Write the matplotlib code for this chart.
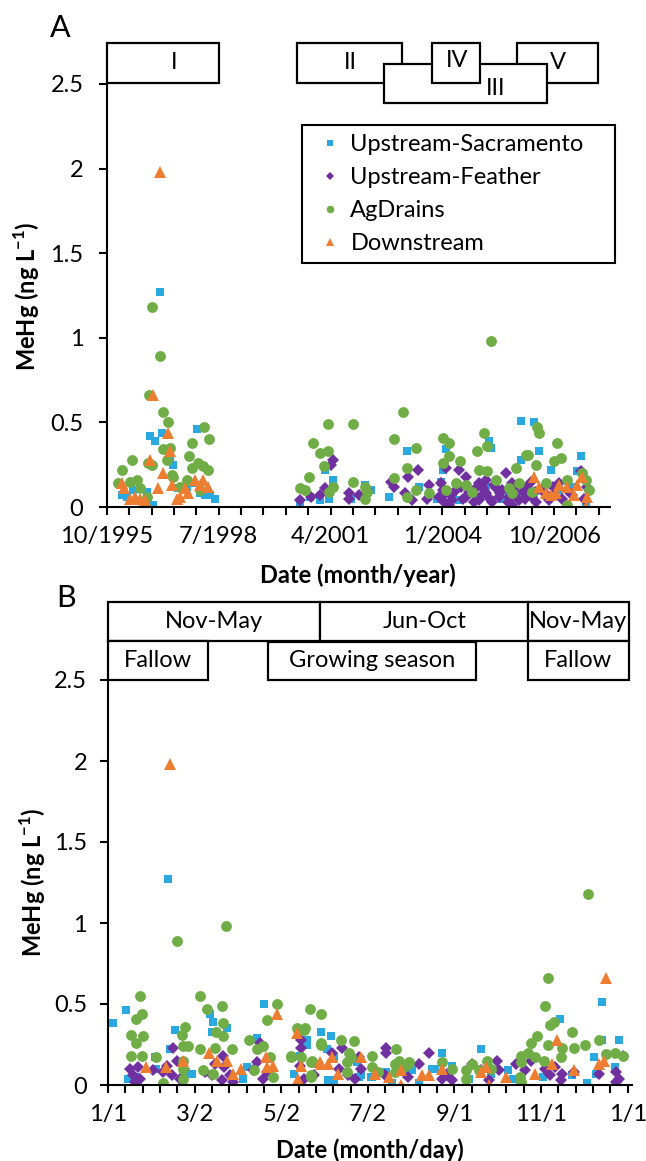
import numpy as np
import matplotlib.pyplot as plt
import matplotlib.transforms as mtransforms
from matplotlib.patches import Rectangle
from matplotlib.ticker import FixedLocator, FuncFormatter

plt.rcParams['font.family'] = ['Lato', 'DejaVu Sans']

# Excel-like series colours
c_sac  = '#29A9E0'
c_fea  = '#7030A0'
c_ag   = '#70AD47'
c_down = '#ED7D31'

labels = ['Upstream-Sacramento', 'Upstream-Feather', 'AgDrains', 'Downstream']

# ---------------- panel A : decimal year, MeHg (ng/L) ----------------
A_sac_yr = [1997.12, 1996.87, 1996.99, 1997.17, 1998.02, 1997.44, 1997.36, 1996.19,
            1996.31, 1996.46, 1996.80, 1996.95, 1998.10, 1998.22, 1998.34, 1998.46,
            1997.56, 1997.78, 1997.90,
            2005.97, 2006.29, 2003.18, 2004.13, 2005.19, 2005.23, 2006.41, 2005.97,
            2007.43, 2006.70, 2007.34, 2000.54, 2001.03, 2001.27, 2001.15, 2001.35,
            2001.81, 2002.13, 2002.74, 2003.47, 2004.04, 2004.45, 2005.11, 2005.68,
            2007.56, 2006.73, 2000.79, 2004.00, 2004.30, 2004.90, 2005.50, 2006.10,
            2006.90, 2007.20, 2003.90, 2002.30]
A_sac_v  = [1.27, 0.42, 0.39, 0.44, 0.46, 0.25, 0.28, 0.07,
            0.06, 0.10, 0.09, 0.01, 0.08, 0.07, 0.07, 0.05,
            0.11, 0.12, 0.14,
            0.51, 0.50, 0.33, 0.34, 0.39, 0.35, 0.33, 0.28,
            0.30, 0.22, 0.21, 0.01, 0.04, 0.05, 0.22, 0.16,
            0.05, 0.13, 0.06, 0.12, 0.22, 0.04, 0.12, 0.09,
            0.01, 0.06, 0.06, 0.15, 0.08, 0.06, 0.05, 0.07,
            0.10, 0.12, 0.05, 0.10]

A_fea_yr = [2001.35, 2001.32, 2003.43, 2002.79, 2002.86, 2000.54, 2000.83, 2001.03,
            2001.15, 2001.76, 2001.76, 2002.18, 2003.11, 2003.30, 2003.72, 2003.67,
            2004.13, 2004.28, 2004.45, 2004.13, 2004.62, 2004.94, 2005.11, 2005.43,
            2005.60, 2005.75, 2005.92, 2006.24, 2006.48, 2006.90, 2007.22, 2007.43,
            2007.58, 2004.21, 2004.62, 2004.94, 2005.36, 2005.75, 2003.96, 2004.87,
            2005.11, 2006.00, 2006.34, 2006.97, 2004.01, 2004.38, 2005.26, 2005.68,
            2006.12, 2006.65, 2004.05, 2004.50, 2004.70, 2005.00, 2005.30, 2005.50,
            2005.85, 2006.20, 2006.55, 2006.75, 2007.10, 2007.50, 2002.00, 2003.20,
            2004.08, 2004.25, 2004.55, 2004.80, 2005.02, 2005.20, 2005.45, 2005.65,
            2005.80, 2006.05, 2006.30, 2006.60]
A_fea_v  = [0.28, 0.25, 0.22, 0.15, 0.12, 0.04, 0.06, 0.07,
            0.11, 0.08, 0.05, 0.10, 0.08, 0.04, 0.13, 0.05,
            0.08, 0.04, 0.22, 0.23, 0.18, 0.14, 0.08, 0.06,
            0.20, 0.14, 0.04, 0.06, 0.10, 0.14, 0.07, 0.21,
            0.12, 0.01, 0.06, 0.04, 0.11, 0.01, 0.06, 0.11,
            0.16, 0.09, 0.03, 0.05, 0.14, 0.10, 0.03, 0.06,
            0.12, 0.04, 0.10, 0.12, 0.09, 0.07, 0.13, 0.10,
            0.12, 0.15, 0.08, 0.12, 0.10, 0.05, 0.07, 0.18,
            0.03, 0.07, 0.05, 0.03, 0.11, 0.05, 0.08, 0.03,
            0.07, 0.05, 0.09, 0.06]

A_ag_yr  = [1996.92, 1997.12, 1996.85, 1997.19, 1997.31, 1997.19, 1997.36, 1997.29,
            1996.19, 1996.43, 1996.09, 1996.38, 1996.56, 1996.63, 1996.80, 1996.92,
            1996.82, 1997.44, 1997.41, 1997.90, 1997.83, 1997.90, 1998.19, 1998.32,
            1998.05, 1998.17, 1998.29, 1997.78, 1997.61, 1998.10,
            2005.23, 2003.06, 2001.23, 2001.84, 2000.86, 2001.05, 2001.23, 2001.13,
            2002.86, 2003.38, 2003.18, 2004.04, 2004.21, 2004.21, 2004.04, 2004.48,
            2005.06, 2005.14, 2004.89, 2006.36, 2006.41, 2006.09, 2006.14, 2006.85,
            2006.95, 2006.78, 2006.34, 2005.85, 2004.94, 2005.14, 2007.09, 2007.46,
            2000.76, 2000.54, 2001.35, 2001.84, 2002.13, 2002.15, 2002.86, 2003.40,
            2003.18, 2003.72, 2004.38, 2004.62, 2005.36, 2005.68, 2005.92, 2006.24,
            2006.58, 2007.09, 2007.63, 2007.56, 2001.27, 2000.66, 2002.18, 2004.13,
            2004.77, 2005.75]
A_ag_v   = [1.18, 0.89, 0.66, 0.56, 0.50, 0.34, 0.35, 0.28,
            0.22, 0.28, 0.14, 0.15, 0.16, 0.11, 0.06, 0.25,
            0.26, 0.18, 0.19, 0.38, 0.30, 0.23, 0.47, 0.40,
            0.26, 0.24, 0.22, 0.16, 0.12, 0.10,
            0.98, 0.56, 0.49, 0.49, 0.38, 0.32, 0.33, 0.24,
            0.40, 0.35, 0.23, 0.41, 0.38, 0.30, 0.26, 0.27,
            0.44, 0.36, 0.33, 0.47, 0.44, 0.31, 0.31, 0.38,
            0.29, 0.27, 0.25, 0.23, 0.22, 0.21, 0.16, 0.20,
            0.18, 0.11, 0.12, 0.15, 0.12, 0.05, 0.17, 0.10,
            0.06, 0.08, 0.14, 0.13, 0.16, 0.11, 0.14, 0.09,
            0.14, 0.01, 0.10, 0.16, 0.09, 0.10, 0.09, 0.10,
            0.09, 0.08]

A_down_yr = [1997.12, 1996.95, 1997.31, 1996.87, 1997.36, 1997.19, 1997.07, 1997.41,
             1996.19, 1996.24, 1996.38, 1996.51, 1996.63, 1996.75, 1996.73, 1997.61,
             1997.73, 1997.80, 1997.97, 1998.17, 1998.29, 1998.10, 1997.53,
             2006.29, 2006.41, 2006.58, 2006.82, 2006.90, 2007.09, 2007.27, 2007.34,
             2007.46, 2007.58, 2007.56, 2006.70]
A_down_v  = [1.98, 0.66, 0.44, 0.28, 0.33, 0.20, 0.11, 0.13,
             0.14, 0.11, 0.05, 0.06, 0.05, 0.04, 0.00, 0.06,
             0.11, 0.08, 0.16, 0.16, 0.12, 0.13, 0.05,
             0.18, 0.12, 0.08, 0.08, 0.13, 0.12, 0.07, 0.13,
             0.18, 0.06, 0.00, 0.07]

A_tick_pos = [35000, 36000, 37000, 38000, 39000]
A_tick_lab = ['10/1995', '7/1998', '4/2001', '1/2004', '10/2006']

# sampling periods (x in Excel date serial)
A_boxes = [('I',   35000, 36000, 1.002, 1.097, 35600, 1.050),
           ('II',  36700, 37640, 1.002, 1.097, 37180, 1.050),
           ('V',   38670, 39390, 1.002, 1.097, 39030, 1.050),
           ('III', 37480, 38940, 0.955, 1.047, 38480, 0.990),
           ('IV',  37910, 38340, 1.002, 1.097, 38130, 1.055)]

# ---------------- panel B : day of year, MeHg (ng/L) ----------------
B_sac_d = [4.5, 13.6, 43, 48, 45, 73, 75, 74, 85, 111, 106, 99, 96, 60, 34, 15, 21,
           35, 56, 136, 141, 151, 158, 155, 156, 132, 148, 141, 160, 176, 179, 160,
           186, 197, 201, 220, 215, 231, 236, 243, 264, 319, 349, 361, 343, 349, 338,
           358, 345, 283, 307, 328, 286, 271, 255, 229, 187, 213, 178]
B_sac_v = [0.38, 0.46, 1.27, 0.34, 0.22, 0.44, 0.39, 0.33, 0.35, 0.50, 0.29, 0.11,
           0.04, 0.07, 0.17, 0.04, 0.05, 0.10, 0.08, 0.18, 0.25, 0.33, 0.30, 0.22,
           0.03, 0.07, 0.13, 0.28, 0.17, 0.14, 0.06, 0.03, 0.05, 0.08, 0.01, 0.01,
           0.09, 0.10, 0.20, 0.12, 0.22, 0.41, 0.51, 0.28, 0.17, 0.28, 0.01, 0.11,
           0.07, 0.09, 0.05, 0.06, 0.04, 0.07, 0.04, 0.10, 0.05, 0.09, 0.05]

B_fea_d = [16.5, 18.6, 22, 23.5, 20, 32.6, 39.6, 46, 47, 49.5, 42.5, 51.6, 69, 74, 76,
           82, 83, 81, 87, 89, 106, 108, 103, 110, 113, 137, 137, 136, 139, 146, 159,
           166, 164, 170, 175, 178, 179, 197, 197, 196, 212, 220, 227, 236, 240, 243,
           257, 264, 269, 275, 276, 288, 295, 299, 309, 312, 316, 320, 321, 329, 347,
           359, 361, 359, 364]
B_fea_v = [0.10, 0.06, 0.11, 0.04, 0.02, 0.09, 0.08, 0.06, 0.23, 0.15, 0.12, 0.04,
           0.08, 0.06, 0.13, 0.18, 0.11, 0.03, 0.06, 0.02, 0.14, 0.26, 0.09, 0.04,
           0.08, 0.28, 0.23, 0.12, 0.04, 0.06, 0.20, 0.23, 0.10, 0.06, 0.04, 0.17,
           0.10, 0.23, 0.20, 0.06, 0.05, 0.13, 0.20, 0.04, 0.07, 0.03, 0.13, 0.09,
           0.03, 0.15, 0.09, 0.13, 0.09, 0.15, 0.10, 0.06, 0.11, 0.03, 0.07, 0.08,
           0.07, 0.08, 0.04, 0.02, 0.18]

B_ag_d = [49.5, 84, 23.5, 66, 25, 21, 17, 25.6, 21, 17, 25, 35, 40, 55, 53, 54, 57, 54,
          54, 54, 71, 81, 82, 77, 82, 88, 66, 76, 68, 75, 100, 106, 110, 113, 120, 104,
          115, 117, 130, 135, 139, 143, 151, 151, 137, 144, 145, 134, 140, 151, 165,
          174, 130, 144, 171, 172, 169, 187, 187, 169, 203, 206, 210, 212, 203, 191,
          144, 236, 339, 311, 309, 312, 315, 299, 303, 328, 337, 329, 347, 352, 358,
          364, 311, 321, 320, 292, 297, 302, 292, 308, 291, 292, 204, 206, 213, 243,
          253, 257, 262, 268, 271, 253]
B_ag_v = [0.89, 0.98, 0.55, 0.55, 0.44, 0.41, 0.31, 0.30, 0.26, 0.18, 0.18, 0.17, 0.01,
          0.36, 0.31, 0.24, 0.24, 0.15, 0.10, 0.04, 0.47, 0.49, 0.38, 0.33, 0.30, 0.22,
          0.22, 0.23, 0.09, 0.07, 0.28, 0.22, 0.24, 0.40, 0.50, 0.09, 0.17, 0.05, 0.17,
          0.34, 0.34, 0.47, 0.44, 0.26, 0.17, 0.05, 0.15, 0.35, 0.35, 0.25, 0.28, 0.27,
          0.18, 0.14, 0.20, 0.17, 0.14, 0.18, 0.11, 0.08, 0.13, 0.14, 0.12, 0.13, 0.08,
          0.08, 0.06, 0.14, 1.18, 0.66, 0.49, 0.37, 0.39, 0.26, 0.30, 0.33, 0.25, 0.23,
          0.28, 0.19, 0.20, 0.18, 0.25, 0.23, 0.17, 0.18, 0.20, 0.17, 0.14, 0.15, 0.05,
          0.02, 0.22, 0.15, 0.14, 0.10, 0.09, 0.13, 0.09, 0.15, 0.10, 0.04]

B_down_d = [44.6, 119.7, 28, 41.7, 53.7, 72, 78, 85, 89, 95, 112, 113, 117, 134, 135,
            137, 151, 156, 352, 317, 314, 302, 350, 347, 329, 281, 269, 267, 264, 236,
            227, 222, 207, 207, 199, 189, 179, 159, 163, 150]
B_down_v = [1.98, 0.44, 0.11, 0.11, 0.15, 0.20, 0.15, 0.15, 0.07, 0.10, 0.17, 0.11,
            0.12, 0.32, 0.04, 0.12, 0.13, 0.13, 0.66, 0.28, 0.13, 0.07, 0.15, 0.13,
            0.09, 0.05, 0.00, 0.11, 0.08, 0.10, 0.06, 0.06, 0.09, 0.00, 0.05, 0.07,
            0.17, 0.17, 0.07, 0.14]

B_tick_pos = [1, 62, 123, 184, 245, 306, 367]
B_tick_lab = ['1/1', '3/2', '5/2', '7/2', '9/1', '11/1', '1/1']

B_boxes = [('Nov-May',        1,   150.6, 1.096, 1.193),
           ('Jun-Oct',        150.6, 296.7, 1.096, 1.193),
           ('Nov-May',        296.7, 367.7, 1.096, 1.193),
           ('Fallow',         1,   71.2,  1.0,   1.096),
           ('Growing season', 114, 260,   1.0,   1.094),
           ('Fallow',         296.7, 367.7, 1.0,   1.096)]

fs = 17

def to_serial( yr ):
    # decimal year -> Excel date serial (35000 = 28 Oct 1995)
    return 35000 + ( np.asarray( yr ) - 1995.822 ) * 365.25

def scatter4( ax, xs, ys ):
    ax.plot( xs[0], ys[0], 's', color = c_sac,  ms = 6.4, mew = 0, label = labels[0] )
    ax.plot( xs[1], ys[1], 'D', color = c_fea,  ms = 6.2, mew = 0, label = labels[1] )
    ax.plot( xs[2], ys[2], 'o', color = c_ag,   ms = 7.8, mew = 0, label = labels[2] )
    ax.plot( xs[3], ys[3], '^', color = c_down, ms = 9.0, mew = 0, label = labels[3] )

def style( ax, ypad ):
    for s in ['top', 'right']:
        ax.spines[s].set_visible( False )
    for s in ['left', 'bottom']:
        ax.spines[s].set_linewidth( 1.5 )
    ax.set_ylim( 0, 2.5 )
    ax.set_yticks( [0, 0.5, 1, 1.5, 2, 2.5] )
    ax.yaxis.set_major_formatter( FuncFormatter( lambda v, p: '%g' % v ) )
    ax.tick_params( axis = 'y', direction = 'out', length = 6, width = 1.5,
                    labelsize = fs, pad = ypad )
    ax.tick_params( axis = 'x', which = 'both', direction = 'out', length = 6,
                    width = 1.5, labelsize = fs, pad = 8 )

def box( ax, x0, x1, y0, y1, text, tx, ty, z ):
    tr = mtransforms.blended_transform_factory( ax.transData, ax.transAxes )
    ax.add_patch( Rectangle( ( x0, y0 ), x1 - x0, y1 - y0, transform = tr,
                             facecolor = 'white', edgecolor = 'black', lw = 1.6,
                             clip_on = False, zorder = z ) )
    ax.text( tx, ty, text, transform = tr, ha = 'center', va = 'center',
             fontsize = fs, zorder = z + 0.5, clip_on = False )

ylab = r'MeHg (ng L$^{\mathregular{-1}}$)'

W, H = 646, 1161
fig = plt.figure( figsize = ( W / 100, H / 100 ), dpi = 100 )

# ---------------- panel A ----------------
axA = fig.add_axes( [107 / W, 1 - 507 / H, ( 610 - 107 ) / W, ( 507 - 84 ) / H] )
scatter4( axA,
          [to_serial( A_sac_yr ), to_serial( A_fea_yr ), to_serial( A_ag_yr ), to_serial( A_down_yr )],
          [A_sac_v, A_fea_v, A_ag_v, A_down_v] )
axA.set_xlim( 35000, 39500 )
axA.xaxis.set_major_locator( FixedLocator( A_tick_pos ) )
axA.xaxis.set_minor_locator( FixedLocator( np.arange( 35000, 39500, 200 ) ) )
axA.set_xticklabels( A_tick_lab )
style( axA, 11 )

for i, ( t, x0, x1, y0, y1, tx, ty ) in enumerate( A_boxes ):
    box( axA, x0, x1, y0, y1, t, tx, ty, 10 + 2 * i )

leg = axA.legend( loc = 'upper left', mode = 'expand',
                  bbox_to_anchor = ( 302 / W, 1 - 260 / H, 313 / W, 135 / H ),
                  bbox_transform = fig.transFigure, fontsize = fs,
                  fancybox = False, framealpha = 1, edgecolor = 'black',
                  handlelength = 1.6, handletextpad = 0.05, borderpad = 0.4,
                  labelspacing = 0.5, markerscale = 0.7, borderaxespad = 0 )
leg.get_frame().set_linewidth( 1.5 )

fig.text( 50 / W, 1 - 14 / H, 'A', fontsize = 22, va = 'top', ha = 'left' )
fig.text( 27 / W, 1 - 296 / H, ylab, fontsize = fs, fontweight = 'bold',
          rotation = 90, ha = 'center', va = 'center' )
fig.text( 358 / W, 1 - 575 / H, 'Date (month/year)', fontsize = fs, fontweight = 'bold',
          ha = 'center', va = 'center' )

# ---------------- panel B ----------------
axB = fig.add_axes( [108 / W, 1 - 1085 / H, 524 / W, 405 / H] )
scatter4( axB, [B_sac_d, B_fea_d, B_ag_d, B_down_d],
          [B_sac_v, B_fea_v, B_ag_v, B_down_v] )
axB.set_xlim( 1, 370 )
axB.xaxis.set_major_locator( FixedLocator( B_tick_pos ) )
axB.xaxis.set_minor_locator( FixedLocator( np.arange( 1, 368, 61 / 5 ) ) )
axB.set_xticklabels( B_tick_lab )
style( axB, 9 )

for i, ( t, x0, x1, y0, y1 ) in enumerate( B_boxes ):
    box( axB, x0, x1, y0, y1, t, ( x0 + x1 ) / 2, ( y0 + y1 ) / 2, 10 + 2 * i )

fig.text( 56 / W, 1 - 584 / H, 'B', fontsize = 22, va = 'top', ha = 'left' )
fig.text( 33 / W, 1 - 882 / H, ylab, fontsize = fs, fontweight = 'bold',
          rotation = 90, ha = 'center', va = 'center' )
fig.text( 370 / W, 1 - 1150 / H, 'Date (month/day)', fontsize = fs, fontweight = 'bold',
          ha = 'center', va = 'center' )

plt.savefig( 'out.png', dpi = 100 )
plt.close()
